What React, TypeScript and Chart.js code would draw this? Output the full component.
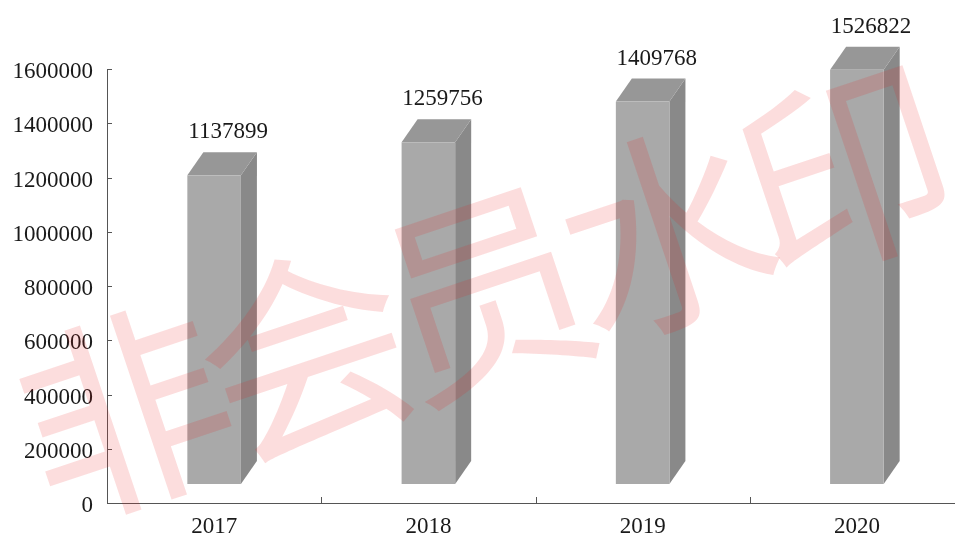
import React, { useEffect, useRef } from "react";
import { Chart, registerables } from "chart.js";

Chart.register(...registerables);

const categories = ["2017", "2018", "2019", "2020"];
const values = [1137899, 1259756, 1409768, 1526822];
const yMin = 0;
const yMax = 1600000;
const yStep = 200000;
const watermarkText = "非会员水印";

const FONT = '"Liberation Serif", "Times New Roman", serif';
const FRONT = "#a9a9a9";
const TOP = "#979797";
const SIDE = "#898989";
const AXIS = "#555555";
const LIFT = 19;
const DX = 16;
const DY = 23;

const bars3d = {
  id: "bars3d",
  afterDatasetsDraw(chart: any) {
    const ctx = chart.ctx;
    const meta = chart.getDatasetMeta(0);
    ctx.save();
    meta.data.forEach((el: any, i: number) => {
      const p = el.getProps(["x", "y", "base", "width"], true);
      const l = p.x - p.width / 2;
      const r = p.x + p.width / 2;
      const top = p.y - LIFT;
      const bot = p.base - LIFT;
      ctx.fillStyle = SIDE;
      ctx.beginPath();
      ctx.moveTo(r, top);
      ctx.lineTo(r + DX, top - DY);
      ctx.lineTo(r + DX, bot - DY);
      ctx.lineTo(r, bot);
      ctx.closePath();
      ctx.fill();
      ctx.fillStyle = TOP;
      ctx.beginPath();
      ctx.moveTo(l, top);
      ctx.lineTo(l + DX, top - DY);
      ctx.lineTo(r + DX, top - DY);
      ctx.lineTo(r, top);
      ctx.closePath();
      ctx.fill();
      ctx.fillStyle = FRONT;
      ctx.fillRect(l, top, p.width, bot - top);
      ctx.fillStyle = "#1a1a1a";
      ctx.font = "23px " + FONT;
      ctx.textAlign = "center";
      ctx.textBaseline = "alphabetic";
      ctx.fillText(String(values[i]), p.x + 14, top - 37);
    });
    ctx.restore();
  },
};

const axisTicks = {
  id: "axisTicks",
  afterDraw(chart: any) {
    const ctx = chart.ctx;
    const xs = chart.scales.x;
    const ys = chart.scales.y;
    const area = chart.chartArea;
    ctx.save();
    ctx.strokeStyle = AXIS;
    ctx.lineWidth = 1;
    ctx.beginPath();
    ys.ticks.forEach((t: any) => {
      if (t.value === 0) return;
      const y = Math.round(ys.getPixelForValue(t.value)) + 0.5;
      ctx.moveTo(area.left, y);
      ctx.lineTo(area.left + 5, y);
    });
    for (let i = 1; i < categories.length; i++) {
      const x = Math.round((xs.getPixelForTick(i - 1) + xs.getPixelForTick(i)) / 2) + 0.5;
      ctx.moveTo(x, area.bottom);
      ctx.lineTo(x, area.bottom - 6);
    }
    ctx.stroke();
    ctx.restore();
  },
};

const watermark = {
  id: "watermark",
  afterDraw(chart: any) {
    const ctx = chart.ctx;
    ctx.save();
    ctx.translate(485, 292);
    ctx.rotate((-18.5 * Math.PI) / 180);
    ctx.font = '212px "Noto Sans CJK SC"';
    (ctx as any).letterSpacing = "-22px";
    ctx.textAlign = "center";
    ctx.textBaseline = "middle";
    ctx.fillStyle = "rgba(235, 30, 30, 0.15)";
    ctx.fillText(watermarkText, -11, 0);
    ctx.restore();
  },
};

export default function App() {
  const ref = useRef<HTMLCanvasElement>(null);
  useEffect(() => {
    if (!ref.current) return;
    const chart = new Chart(ref.current, {
      type: "bar",
      data: {
        labels: categories,
        datasets: [
          {
            data: values,
            backgroundColor: "rgba(0,0,0,0)",
            borderWidth: 0,
            barPercentage: 0.25,
            categoryPercentage: 1,
          },
        ],
      },
      options: {
        animation: false,
        responsive: false,
        layout: { padding: { top: 69, right: 16, bottom: 0, left: 0 } },
        plugins: { legend: { display: false }, tooltip: { enabled: false } },
        scales: {
          x: {
            grid: { display: false, drawTicks: false },
            border: { display: true, color: AXIS, width: 1 },
            ticks: { color: "#1a1a1a", font: { family: FONT, size: 23 }, padding: 10, maxRotation: 0 },
            afterFit(s: any) {
              s.height = 35;
            },
          },
          y: {
            min: yMin,
            max: yMax,
            grid: { display: false, drawTicks: false },
            border: { display: true, color: AXIS, width: 1 },
            ticks: {
              stepSize: yStep,
              color: "#1a1a1a",
              font: { family: FONT, size: 23 },
              padding: 14,
              labelOffset: 3,
              callback: (v: any) => String(v),
            },
            afterFit(s: any) {
              s.width = 107;
            },
          },
        },
      },
      plugins: [bars3d, axisTicks, watermark],
    });
    return () => chart.destroy();
  }, []);
  return (
    <div style={{ position: "fixed", left: 0, top: 0, width: 980, height: 538, background: "#fff" }}>
      <canvas ref={ref} width={980} height={538} style={{ display: "block" }} />
    </div>
  );
}
